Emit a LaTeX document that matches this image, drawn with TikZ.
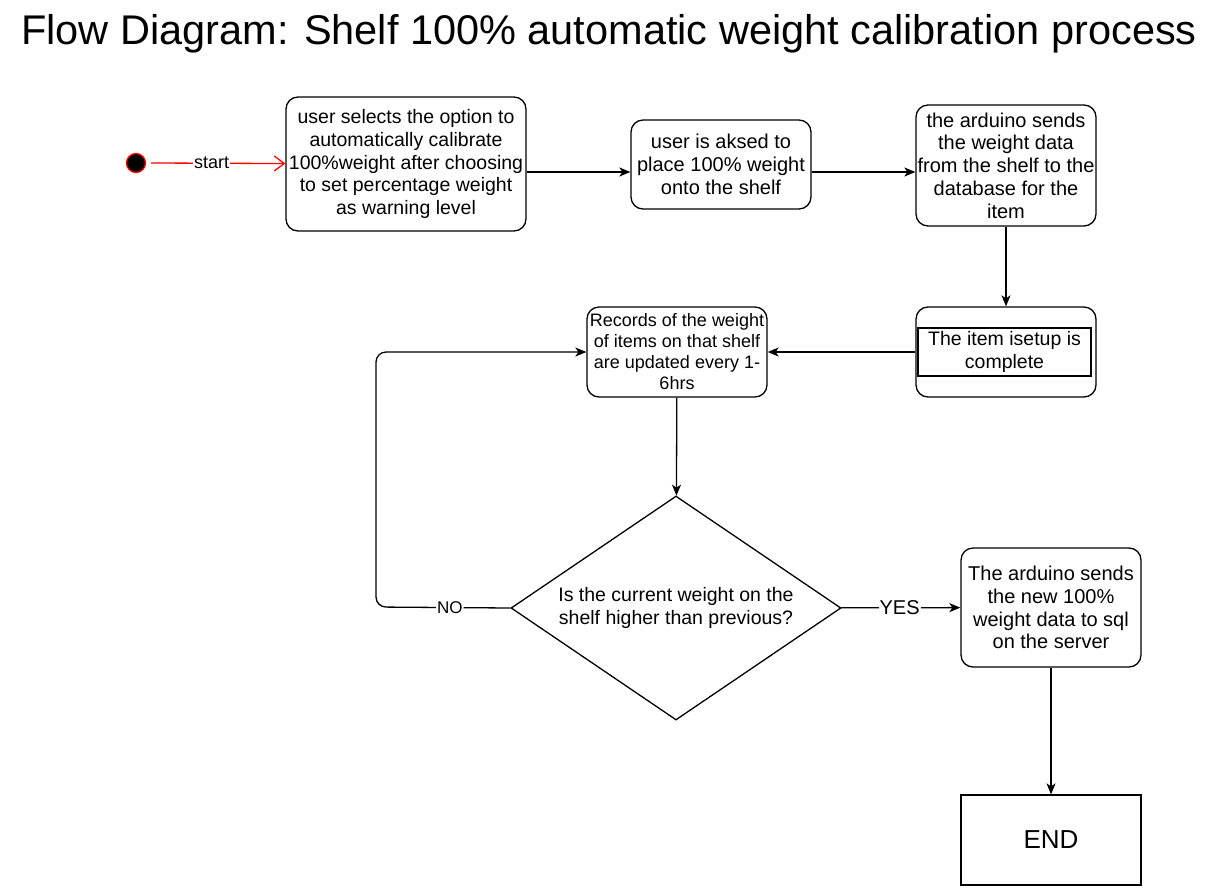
\documentclass[tikz,border=0pt]{standalone}
\usepackage{fontspec}
\setmainfont{Liberation Sans}
\usetikzlibrary{shapes.geometric,arrows.meta}

\begin{document}
\begin{tikzpicture}[x=1pt, y=-1pt, >={Stealth[length=11pt,width=9pt,inset=3pt]}, line width=1.3pt,
    box/.style={draw, rounded corners=12pt, align=center, inner sep=0pt, font=\fontsize{20}{22.7}\selectfont},
    lbl/.style={fill=white, inner sep=1pt, font=\fontsize{17}{18}\selectfont}]
    \useasboundingbox (0,0) rectangle (1218,887);
    \node (title) at (609,34) {\fontsize{41.5}{44}\selectfont Flow Diagram: Shelf 100\% automatic weight calibration process};

    \node[circle, fill=black, draw=red, line width=1.3pt, minimum size=19pt, inner sep=0pt] (init) at (136,163) {};
    \node[box, minimum width=240pt, minimum height=134pt, font=\fontsize{19.5}{22.7}\selectfont] (select) at (406,164)
        {user selects the option to\\automatically calibrate\\100\%weight after choosing\\to set percentage weight\\as warning level};
    \node[box, minimum width=180pt, minimum height=89pt] (place) at (721,164.5)
        {user is aksed to\\place 100\% weight\\onto the shelf};
    \node[box, minimum width=180pt, minimum height=121pt] (send) at (1006,165.5)
        {the arduino sends\\the weight data\\from the shelf to the\\database for the\\item};
    \node[box, minimum width=180pt, minimum height=90pt] (done) at (1006,352) {};
    \node[draw, align=center, inner sep=0pt, minimum width=173pt, minimum height=48pt, font=\fontsize{19.5}{22.7}\selectfont] (doneinner) at (1004.5,352)
        {The item isetup is\\complete};
    \node[box, minimum width=180pt, minimum height=90pt, font=\fontsize{18}{21}\selectfont] (records) at (677,352)
        {Records of the weight\\of items on that shelf\\are updated every 1-\\6hrs};
    \node[draw, diamond, shape aspect=1.47, minimum width=330pt, minimum height=224pt, inner sep=0pt, align=center, font=\fontsize{19.5}{23}\selectfont] (check) at (676,608)
        {Is the current weight on the\\shelf higher than previous?};
    \node[box, minimum width=180pt, minimum height=119pt] (server) at (1051,607.5)
        {The arduino sends\\the new 100\%\\weight data to sql\\on the server};
    \node[draw, minimum width=180pt, minimum height=90pt, font=\fontsize{26}{28}\selectfont] (end) at (1051,840) {END};

    % connectors
    \draw[red, -{Straight Barb[length=10pt,width=15pt]}] ([xshift=5pt]init.east) -- (select) node[lbl, text=black, font=\fontsize{18}{18}\selectfont, pos=0.45] (startlbl) {start};
    \draw[->] (select.east |- 0,172) -- (place.west |- 0,172);
    \draw[->] (place.east |- 0,172) -- (send.west |- 0,172);
    \draw[->] (send) -- (done);
    \draw[->] (done) -- (records);
    \draw[->] (records) -- (check);
    \draw[->] (check) -- (server) node[lbl, pos=0.49, font=\fontsize{20}{20}\selectfont] (yes) {YES};
    \draw[->, rounded corners=10pt] (check.west) -- (376,607) node[lbl, pos=0.45] (no) {NO} -- (376,352) -- (records.west);
    \draw[->] (server) -- (end);
\end{tikzpicture}
\end{document}
